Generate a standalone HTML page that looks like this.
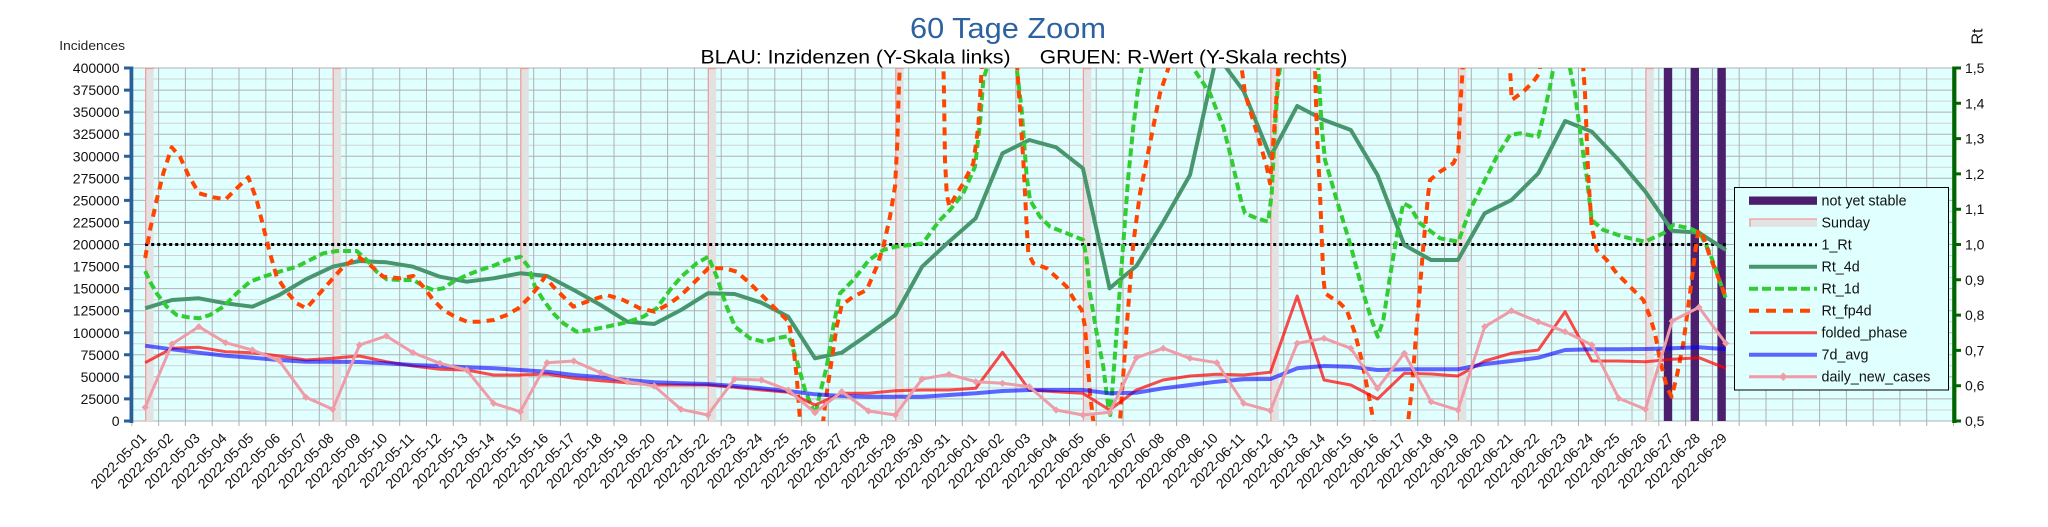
<!DOCTYPE html>
<html><head><meta charset="utf-8"><style>
html,body{margin:0;padding:0;background:#fff;}
svg{display:block;}
text{font-family:"Liberation Sans",Arial,sans-serif;}
</style></head><body>
<svg width="2048" height="527" viewBox="0 0 2048 527" xmlns="http://www.w3.org/2000/svg">
<defs>
<clipPath id="pc"><rect x="131.8" y="68" width="1821.7" height="353"/></clipPath>
<marker id="dm" viewBox="-4 -4 8 8" markerWidth="8" markerHeight="8" markerUnits="userSpaceOnUse" refX="0" refY="0"><path d="M0,-3.6 L3.6,0 L0,3.6 L-3.6,0Z" fill="#ee9ca7"/></marker>
</defs>
<rect width="2048" height="527" fill="#fff"/>
<!-- titles -->
<text x="910" y="38" font-size="29" fill="#2d62a0" textLength="196" lengthAdjust="spacingAndGlyphs">60 Tage Zoom</text>
<text x="700.5" y="63.5" font-size="19.5" fill="#000" textLength="310" lengthAdjust="spacingAndGlyphs">BLAU: Inzidenzen (Y-Skala links)</text>
<text x="1039.8" y="63.5" font-size="19.5" fill="#000" textLength="307.6" lengthAdjust="spacingAndGlyphs">GRUEN: R-Wert (Y-Skala rechts)</text>
<text x="59.3" y="50" font-size="13" fill="#222" textLength="65.7" lengthAdjust="spacingAndGlyphs">Incidences</text>
<text transform="translate(1982.5,36.5) rotate(-90)" text-anchor="middle" font-size="16" fill="#111">Rt</text>

<!-- plot background -->
<rect x="131.8" y="68" width="1821.7" height="353" fill="#e0ffff"/>
<!-- minor horizontal grid -->
<path stroke="#d2d2d2" stroke-width="1" fill="none" d="M131.8,410H1953.5M131.8,387.9H1953.5M131.8,365.8H1953.5M131.8,343.8H1953.5M131.8,321.7H1953.5M131.8,299.7H1953.5M131.8,277.6H1953.5M131.8,255.5H1953.5M131.8,233.5H1953.5M131.8,211.4H1953.5M131.8,189.3H1953.5M131.8,167.3H1953.5M131.8,145.2H1953.5M131.8,123.2H1953.5M131.8,101.1H1953.5M131.8,79H1953.5"/>
<!-- major horizontal grid -->
<path stroke="#b0b0b0" stroke-width="1" fill="none" d="M131.8,421H1953.5M131.8,398.9H1953.5M131.8,376.9H1953.5M131.8,354.8H1953.5M131.8,332.8H1953.5M131.8,310.7H1953.5M131.8,288.6H1953.5M131.8,266.6H1953.5M131.8,244.5H1953.5M131.8,222.4H1953.5M131.8,200.4H1953.5M131.8,178.3H1953.5M131.8,156.3H1953.5M131.8,134.2H1953.5M131.8,112.1H1953.5M131.8,90.1H1953.5M131.8,68H1953.5"/>
<!-- vertical grid -->
<path stroke="#b0b0b0" stroke-width="1" fill="none" d="M158.6,68V421M185.4,68V421M212.2,68V421M239,68V421M265.8,68V421M292.5,68V421M319.3,68V421M346.1,68V421M372.9,68V421M399.7,68V421M426.5,68V421M453.3,68V421M480.1,68V421M506.9,68V421M533.7,68V421M560.4,68V421M587.2,68V421M614,68V421M640.8,68V421M667.6,68V421M694.4,68V421M721.2,68V421M748,68V421M774.8,68V421M801.6,68V421M828.3,68V421M855.1,68V421M881.9,68V421M908.7,68V421M935.5,68V421M962.3,68V421M989.1,68V421M1015.9,68V421M1042.7,68V421M1069.5,68V421M1096.2,68V421M1123,68V421M1149.8,68V421M1176.6,68V421M1203.4,68V421M1230.2,68V421M1257,68V421M1283.8,68V421M1310.6,68V421M1337.4,68V421M1364.1,68V421M1390.9,68V421M1417.7,68V421M1444.5,68V421M1471.3,68V421M1498.1,68V421M1524.9,68V421M1551.7,68V421M1578.5,68V421M1605.3,68V421M1632,68V421M1658.8,68V421M1685.6,68V421M1712.4,68V421M1739.2,68V421M1766,68V421M1792.8,68V421M1819.6,68V421M1846.4,68V421M1873.2,68V421M1899.9,68V421M1926.7,68V421"/>
<!-- bottom ticks -->
<path stroke="#b0b0b0" stroke-width="1" fill="none" d="M131.8,421V426M158.6,421V426M185.4,421V426M212.2,421V426M239,421V426M265.8,421V426M292.5,421V426M319.3,421V426M346.1,421V426M372.9,421V426M399.7,421V426M426.5,421V426M453.3,421V426M480.1,421V426M506.9,421V426M533.7,421V426M560.4,421V426M587.2,421V426M614,421V426M640.8,421V426M667.6,421V426M694.4,421V426M721.2,421V426M748,421V426M774.8,421V426M801.6,421V426M828.3,421V426M855.1,421V426M881.9,421V426M908.7,421V426M935.5,421V426M962.3,421V426M989.1,421V426M1015.9,421V426M1042.7,421V426M1069.5,421V426M1096.2,421V426M1123,421V426M1149.8,421V426M1176.6,421V426M1203.4,421V426M1230.2,421V426M1257,421V426M1283.8,421V426M1310.6,421V426M1337.4,421V426M1364.1,421V426M1390.9,421V426M1417.7,421V426M1444.5,421V426M1471.3,421V426M1498.1,421V426M1524.9,421V426M1551.7,421V426M1578.5,421V426M1605.3,421V426M1632,421V426M1658.8,421V426M1685.6,421V426M1712.4,421V426M1739.2,421V426M1766,421V426M1792.8,421V426M1819.6,421V426M1846.4,421V426M1873.2,421V426M1899.9,421V426M1926.7,421V426M1953.5,421V426"/>

<!-- Sunday bars -->
<g fill="#e2e2e2">
<rect x="145.2" y="68" width="8.4" height="353"/><rect x="332.7" y="68" width="8.4" height="353"/><rect x="520.3" y="68" width="8.4" height="353"/><rect x="707.8" y="68" width="8.4" height="353"/><rect x="895.3" y="68" width="8.4" height="353"/><rect x="1082.9" y="68" width="8.4" height="353"/><rect x="1270.4" y="68" width="8.4" height="353"/><rect x="1457.9" y="68" width="8.4" height="353"/><rect x="1645.4" y="68" width="8.4" height="353"/>
</g>
<path stroke="#f09a9a" stroke-width="1.2" fill="none" d="M145.7,421V68.5H153.6M333.2,421V68.5H341.1M520.8,421V68.5H528.7M708.3,421V68.5H716.2M895.8,421V68.5H903.7M1083.4,421V68.5H1091.3M1270.9,421V68.5H1278.8M1458.4,421V68.5H1466.3M1645.9,421V68.5H1653.8"/>
<!-- not yet stable bars -->
<g fill="#4b1f6e">
<rect x="1663.8" y="68" width="8.4" height="353"/><rect x="1690.6" y="68" width="8.4" height="353"/><rect x="1717.4" y="68" width="8.4" height="353"/>
</g>

<g clip-path="url(#pc)" fill="none" stroke-linejoin="round">
<!-- 1_Rt -->
<path d="M145.2,244.5H1725.8" stroke="#000" stroke-width="3" stroke-dasharray="3 3"/>
<!-- Rt_4d -->
<polyline stroke="#48966e" stroke-width="4" points="145.2,308.3 172,300 198.8,298.3 225.6,303.3 252.4,306.7 279.2,295 305.9,279.3 332.7,266.7 359.5,261 386.3,262.3 413.1,266.7 439.9,276.7 466.7,281.7 493.5,278.3 520.3,273.3 547.1,276 573.8,290 600.6,305 627.4,321.7 654.2,324 681,310 707.8,293.3 734.6,294 761.4,302.7 788.2,316.7 815,358.3 841.7,352.7 868.5,334.3 895.3,315 922.1,266.7 948.9,241.7 975.7,218.3 1002.5,153.3 1029.3,140 1056.1,147.3 1082.9,168.3 1109.6,288.3 1136.4,266 1163.2,222 1190,175 1216.8,55 1243.6,91 1270.4,156.7 1297.2,106 1324,120 1350.8,130 1377.5,175 1404.3,245 1431.1,260 1457.9,260 1484.7,213.3 1511.5,200 1538.3,173.3 1565.1,121 1591.9,131.7 1618.7,160 1645.4,191.7 1672.2,230.7 1699,232.7 1725.8,250"/>
<!-- Rt_1d -->
<polyline stroke="#32cd32" stroke-width="4" stroke-dasharray="8 4" points="145.2,271 150,281.7 156.7,293.3 166.7,306.7 176.7,315 188.3,317.3 199,318.3 210,315 223.3,306.7 236.7,293.3 250,281.7 263.3,276.7 279.3,271.7 296.7,266.7 310,260 323.3,253.3 336.7,251 356.7,251 366.7,260 376.7,271.7 386.7,279.3 400,280 413.3,280 423.3,286 433.3,290 443.3,288.3 453.3,281.7 467,275 480,270 493.7,265.7 506.7,260 520.7,256.7 528.3,266.7 535,286.7 543.3,300 553.3,313.3 563.3,323.3 576.7,331.7 590,330 606.7,326.7 626.7,322.3 643.3,316.7 656.7,308.3 670,290 681.3,276.7 696.7,263.3 708.3,256.7 716.7,276.7 726.7,306.7 735,326.7 750,338.3 763.3,341.7 776.7,338.3 788.7,336 796.7,360 805,390 811.7,406.7 815.3,415 820,393.3 826.7,366.7 833.3,326.7 840,293.3 853.3,280 869,260 883.3,250 895.7,246.7 910,245 922.7,243.3 930,233.3 940,220 950,210 963.3,193.3 975,166.7 980,123.3 983.3,80 986.7,68.3 990,40 1001,10 1012,40 1016.7,68.3 1021.7,110 1026.7,176.7 1030,200 1040,216.7 1050,226.7 1066.7,233.3 1083.3,240 1086.7,260 1090,293.3 1096.7,333.3 1103.3,366.7 1108.3,406.7 1110.3,415 1113.3,376.7 1118.3,310 1123.3,243.3 1128.3,176.7 1133.3,126.7 1138.3,86.7 1141.7,68.3 1146,40 1167,0 1188,40 1193.3,68.3 1210,93.3 1223.3,126.7 1231.7,160 1241.7,203.3 1245,213.3 1256.7,218.3 1268.3,221.7 1271.7,193.3 1275,126.7 1278.3,80 1280,68.3 1282,40 1299,0 1316,40 1318.3,68.3 1321.7,126.7 1325,160 1330,176.7 1336.7,200 1350,243.3 1363.3,293.3 1371.7,320 1377.7,336.7 1383.3,320 1390,276.7 1396.7,236.7 1403.3,203.3 1410,206.7 1420,223.3 1440,238.3 1458.3,241.7 1470,210 1483.3,183.3 1496.7,156.7 1510,135 1520,133.3 1538.3,136.7 1543.3,116.7 1550,86.7 1553.3,68.3 1556,40 1562,20 1568,40 1570,68.3 1575,93.3 1581.7,143.3 1586.7,176.7 1591.7,220 1603.3,230 1623.3,236.7 1645,241.7 1663.3,233.3 1673.3,225 1690,228.3 1700,233.3 1710,253.3 1725.8,298.3"/>
<!-- Rt_fp4d -->
<polyline stroke="#ff4500" stroke-width="4" stroke-dasharray="8 6" points="145.2,258 150,230 156.7,200 163.3,173.3 171.7,147.3 180,156.7 188.3,175 199,193.3 213.3,197.3 225.7,199.3 236.7,188.3 248.3,177.3 256.7,200 263.3,226.7 270,253.3 276.7,276.7 286.7,291.7 296.7,303.3 306.3,308.3 316.7,296.7 330,281.7 343.3,266.7 358.3,256.7 370,265 383.3,276.7 400,278.3 413.3,276 423.3,286.7 433.3,300 443.3,310 455,316.7 467,321.7 480,321.7 493.7,320 506.7,315 518.3,308.3 530,296.7 538.3,286.7 545,276.7 553.3,286.7 563.3,296.7 573.3,306.7 586.7,301.7 606.7,295 623.3,300 640,308.3 654.7,311.7 670,303.3 681.3,295 693.3,283.3 708.3,268.3 725,268.3 736.7,271.7 750,283.3 763.3,296.7 776.7,310 788.7,321.7 793.3,346.7 796.7,376.7 800,420 803,445 812,455 821,445 823.3,420 826.7,393.3 831.7,360 836.7,326.7 841.7,305 853.3,296.7 866.7,290 876.7,266.7 883.3,246.7 890,216.7 895,186.7 897.3,143.3 898.7,93.3 900,60 902,20 921,0 941,20 943.3,60 944,93.3 945,160 946.7,193.3 949.3,206.7 955,196.7 963.3,183.3 973.3,163.3 978.3,126.7 981.7,68.3 983,30 1000,0 1016,30 1017.3,68.3 1020,110 1023.3,160 1026.7,226.7 1028.3,253.3 1033.3,263.3 1046.7,268.3 1066.7,286.7 1073.3,298.3 1081.7,310 1085,326.7 1090,393.3 1093.3,421 1095,440 1106,455 1118.3,440 1120,421 1126.7,326.7 1133.3,243.3 1140,193.3 1150,143.3 1160,93.3 1168.3,68.3 1171,40 1200,0 1238,40 1241.7,68.3 1245,93.3 1250,110 1260,143.3 1266.7,166.7 1270,183.3 1273.3,143.3 1276.7,93.3 1278.3,68.3 1280,40 1297,0 1313,40 1315,68.3 1316.7,126.7 1320,193.3 1323.3,276.7 1325,293.3 1335,300 1340,303.3 1346.7,310 1355,333.3 1361.7,360 1368.3,393.3 1373.3,420 1375,440 1391,455 1406.7,440 1408.3,420 1411.7,390 1416.7,326.7 1420,286.7 1423.3,246.7 1428.3,193.3 1430,180 1440,171.7 1453.3,163.3 1458.3,153.3 1460,110 1462.7,68.3 1464,40 1486,0 1508,40 1510,68.3 1511.7,100 1523.3,91.7 1533.3,81.7 1539.3,73.3 1542,50 1562,0 1582,50 1583.3,68.3 1585,93.3 1588.3,176.7 1591.7,226.7 1596.7,250 1606.7,260 1616.7,273.3 1626.7,283.3 1643.3,300 1650,316.7 1655,333.3 1660,360 1666.7,386.7 1671.7,396.7 1676.7,376.7 1683.3,343.3 1690,293.3 1695,253.3 1698.3,230 1703.3,236.7 1710,256.7 1716.7,273.3 1725.8,297"/>
<!-- folded_phase -->
<polyline stroke="#ff0000" stroke-opacity="0.7" stroke-width="3" points="145.2,362.7 172,348.3 198.8,347.3 225.6,351.7 252.4,352.7 279.2,356 305.9,360 332.7,358.3 359.5,356 386.3,361.7 413.1,366 439.9,369.3 466.7,370 493.5,375 520.3,375 547.1,374 573.8,378.3 600.6,380.7 627.4,382.7 654.2,385 681,385 707.8,385 734.6,387.3 761.4,390 788.2,392.3 815,405 841.7,393.3 868.5,393.3 895.3,390.7 922.1,390 948.9,390 975.7,388.3 1002.5,352.3 1029.3,390 1056.1,391.7 1082.9,393.3 1109.6,410 1136.4,390 1163.2,380 1190,376 1216.8,374.3 1243.6,375 1270.4,372.3 1297.2,296 1324,380 1350.8,385 1377.5,399 1404.3,373.3 1431.1,374 1457.9,376 1484.7,361 1511.5,353.3 1538.3,350 1565.1,311.7 1591.9,361 1618.7,361 1645.4,361.7 1672.2,359.3 1699,357.7 1725.8,368.3"/>
<!-- 7d_avg -->
<polyline stroke="#0000ff" stroke-opacity="0.6" stroke-width="4" points="145.2,345.7 172,349.3 198.8,352.7 225.6,355.7 252.4,357.7 279.2,360 305.9,361.7 332.7,361.7 359.5,362 386.3,363.3 413.1,365 439.9,366 466.7,367.3 493.5,368.3 520.3,370 547.1,371.7 573.8,375 600.6,377.3 627.4,380 654.2,382.3 681,383.3 707.8,384 734.6,386 761.4,388.3 788.2,391 815,394.3 841.7,396 868.5,396.7 895.3,396.7 922.1,396.7 948.9,395 975.7,393.3 1002.5,391 1029.3,390 1056.1,390 1082.9,390 1109.6,393.3 1136.4,392.7 1163.2,388.3 1190,385 1216.8,381.7 1243.6,379.3 1270.4,379 1297.2,368.3 1324,366 1350.8,366.7 1377.5,370 1404.3,369.3 1431.1,369.3 1457.9,369.3 1484.7,364 1511.5,361 1538.3,357.7 1565.1,350 1591.9,349.3 1618.7,349.3 1645.4,349 1672.2,348.3 1699,347.3 1725.8,349.3"/>
<!-- daily_new_cases -->
<polyline stroke="#ee9ca7" stroke-width="3" marker-start="url(#dm)" marker-mid="url(#dm)" marker-end="url(#dm)" points="145.2,407.3 172,344 198.8,326.7 225.6,342.7 252.4,350 279.2,360.7 305.9,397.3 332.7,409.3 359.5,345 386.3,336 413.1,352.7 439.9,363.3 466.7,370 493.5,403.3 520.3,411.7 547.1,362.7 573.8,361 600.6,372.7 627.4,381.7 654.2,386 681,409.3 707.8,415 734.6,379 761.4,380 788.2,390 815,412.7 841.7,391.7 868.5,411 895.3,415 922.1,379 948.9,374.3 975.7,381.7 1002.5,383.3 1029.3,386.7 1056.1,410 1082.9,415 1109.6,412.3 1136.4,357.7 1163.2,348.3 1190,358.3 1216.8,362.7 1243.6,403.3 1270.4,410.7 1297.2,343.3 1324,338.3 1350.8,348.3 1377.5,388.3 1404.3,353.3 1431.1,401.7 1457.9,410 1484.7,326.7 1511.5,310.7 1538.3,321.7 1565.1,331.7 1591.9,345 1618.7,398.3 1645.4,409.3 1672.2,321 1699,307.3 1725.8,343.3"/>
</g>

<!-- left axis -->
<rect x="129.5" y="66.5" width="3.8" height="356.5" fill="#2a6099"/>
<path stroke="#2a6099" stroke-width="3" fill="none" d="M124,421H131M124,398.9H131M124,376.9H131M124,354.8H131M124,332.8H131M124,310.7H131M124,288.6H131M124,266.6H131M124,244.5H131M124,222.4H131M124,200.4H131M124,178.3H131M124,156.3H131M124,134.2H131M124,112.1H131M124,90.1H131M124,68H131"/>
<g font-size="14" fill="#111" text-anchor="end">
<text x="119.5" y="426">0</text><text x="119.5" y="403.9">25000</text><text x="119.5" y="381.9">50000</text><text x="119.5" y="359.8">75000</text><text x="119.5" y="337.8">100000</text><text x="119.5" y="315.7">125000</text><text x="119.5" y="293.6">150000</text><text x="119.5" y="271.6">175000</text><text x="119.5" y="249.5">200000</text><text x="119.5" y="227.4">225000</text><text x="119.5" y="205.4">250000</text><text x="119.5" y="183.3">275000</text><text x="119.5" y="161.3">300000</text><text x="119.5" y="139.2">325000</text><text x="119.5" y="117.1">350000</text><text x="119.5" y="95.1">375000</text><text x="119.5" y="73">400000</text>
</g>
<!-- right axis -->
<rect x="1952.2" y="66.5" width="4.2" height="356.5" fill="#006400"/>
<path stroke="#006400" stroke-width="3" fill="none" d="M1955,421H1961M1955,385.7H1961M1955,350.4H1961M1955,315.1H1961M1955,279.8H1961M1955,244.5H1961M1955,209.2H1961M1955,173.9H1961M1955,138.6H1961M1955,103.3H1961M1955,68H1961"/>
<g font-size="14" fill="#111">
<text x="1965" y="426">0,5</text><text x="1965" y="390.7">0,6</text><text x="1965" y="355.4">0,7</text><text x="1965" y="320.1">0,8</text><text x="1965" y="284.8">0,9</text><text x="1965" y="249.5">1,0</text><text x="1965" y="214.2">1,1</text><text x="1965" y="178.9">1,2</text><text x="1965" y="143.6">1,3</text><text x="1965" y="108.3">1,4</text><text x="1965" y="73">1,5</text>
</g>

<!-- x labels -->
<g font-size="14" fill="#111" text-anchor="end">
<text transform="translate(147.2,439) rotate(-45)">2022-05-01</text>
<text transform="translate(174,439) rotate(-45)">2022-05-02</text>
<text transform="translate(200.8,439) rotate(-45)">2022-05-03</text>
<text transform="translate(227.6,439) rotate(-45)">2022-05-04</text>
<text transform="translate(254.4,439) rotate(-45)">2022-05-05</text>
<text transform="translate(281.2,439) rotate(-45)">2022-05-06</text>
<text transform="translate(307.9,439) rotate(-45)">2022-05-07</text>
<text transform="translate(334.7,439) rotate(-45)">2022-05-08</text>
<text transform="translate(361.5,439) rotate(-45)">2022-05-09</text>
<text transform="translate(388.3,439) rotate(-45)">2022-05-10</text>
<text transform="translate(415.1,439) rotate(-45)">2022-05-11</text>
<text transform="translate(441.9,439) rotate(-45)">2022-05-12</text>
<text transform="translate(468.7,439) rotate(-45)">2022-05-13</text>
<text transform="translate(495.5,439) rotate(-45)">2022-05-14</text>
<text transform="translate(522.3,439) rotate(-45)">2022-05-15</text>
<text transform="translate(549.1,439) rotate(-45)">2022-05-16</text>
<text transform="translate(575.8,439) rotate(-45)">2022-05-17</text>
<text transform="translate(602.6,439) rotate(-45)">2022-05-18</text>
<text transform="translate(629.4,439) rotate(-45)">2022-05-19</text>
<text transform="translate(656.2,439) rotate(-45)">2022-05-20</text>
<text transform="translate(683,439) rotate(-45)">2022-05-21</text>
<text transform="translate(709.8,439) rotate(-45)">2022-05-22</text>
<text transform="translate(736.6,439) rotate(-45)">2022-05-23</text>
<text transform="translate(763.4,439) rotate(-45)">2022-05-24</text>
<text transform="translate(790.2,439) rotate(-45)">2022-05-25</text>
<text transform="translate(817,439) rotate(-45)">2022-05-26</text>
<text transform="translate(843.7,439) rotate(-45)">2022-05-27</text>
<text transform="translate(870.5,439) rotate(-45)">2022-05-28</text>
<text transform="translate(897.3,439) rotate(-45)">2022-05-29</text>
<text transform="translate(924.1,439) rotate(-45)">2022-05-30</text>
<text transform="translate(950.9,439) rotate(-45)">2022-05-31</text>
<text transform="translate(977.7,439) rotate(-45)">2022-06-01</text>
<text transform="translate(1004.5,439) rotate(-45)">2022-06-02</text>
<text transform="translate(1031.3,439) rotate(-45)">2022-06-03</text>
<text transform="translate(1058.1,439) rotate(-45)">2022-06-04</text>
<text transform="translate(1084.9,439) rotate(-45)">2022-06-05</text>
<text transform="translate(1111.6,439) rotate(-45)">2022-06-06</text>
<text transform="translate(1138.4,439) rotate(-45)">2022-06-07</text>
<text transform="translate(1165.2,439) rotate(-45)">2022-06-08</text>
<text transform="translate(1192,439) rotate(-45)">2022-06-09</text>
<text transform="translate(1218.8,439) rotate(-45)">2022-06-10</text>
<text transform="translate(1245.6,439) rotate(-45)">2022-06-11</text>
<text transform="translate(1272.4,439) rotate(-45)">2022-06-12</text>
<text transform="translate(1299.2,439) rotate(-45)">2022-06-13</text>
<text transform="translate(1326,439) rotate(-45)">2022-06-14</text>
<text transform="translate(1352.8,439) rotate(-45)">2022-06-15</text>
<text transform="translate(1379.5,439) rotate(-45)">2022-06-16</text>
<text transform="translate(1406.3,439) rotate(-45)">2022-06-17</text>
<text transform="translate(1433.1,439) rotate(-45)">2022-06-18</text>
<text transform="translate(1459.9,439) rotate(-45)">2022-06-19</text>
<text transform="translate(1486.7,439) rotate(-45)">2022-06-20</text>
<text transform="translate(1513.5,439) rotate(-45)">2022-06-21</text>
<text transform="translate(1540.3,439) rotate(-45)">2022-06-22</text>
<text transform="translate(1567.1,439) rotate(-45)">2022-06-23</text>
<text transform="translate(1593.9,439) rotate(-45)">2022-06-24</text>
<text transform="translate(1620.7,439) rotate(-45)">2022-06-25</text>
<text transform="translate(1647.4,439) rotate(-45)">2022-06-26</text>
<text transform="translate(1674.2,439) rotate(-45)">2022-06-27</text>
<text transform="translate(1701,439) rotate(-45)">2022-06-28</text>
<text transform="translate(1727.8,439) rotate(-45)">2022-06-29</text>
</g>

<!-- legend -->
<rect x="1734.5" y="187.5" width="214" height="202.5" fill="#e0ffff" stroke="#000" stroke-width="1"/>
<rect x="1749" y="196.5" width="68" height="8.3" fill="#4b1f6e"/>
<rect x="1749" y="218.5" width="68" height="8.3" fill="#e2e2e2"/>
<path d="M1750,226.8V219H1817" stroke="#f09a9a" stroke-width="1.2" fill="none"/>
<path d="M1749,244.7H1817" stroke="#000" stroke-width="3" stroke-dasharray="3 3"/>
<path d="M1749,266.7H1817" stroke="#48966e" stroke-width="4"/>
<path d="M1749,288.7H1817" stroke="#32cd32" stroke-width="4" stroke-dasharray="9 4"/>
<path d="M1749,310.7H1817" stroke="#ff4500" stroke-width="4" stroke-dasharray="10 7"/>
<path d="M1750,332.7H1817" stroke="#ff0000" stroke-opacity="0.7" stroke-width="3"/>
<path d="M1749,354.7H1817" stroke="#0000ff" stroke-opacity="0.6" stroke-width="4"/>
<path d="M1749,376.7H1817" stroke="#ee9ca7" stroke-width="3"/>
<path d="M1783.3,372.5 L1787.5,376.7 L1783.3,380.9 L1779.1,376.7Z" fill="#ee9ca7"/>
<g font-size="14.3" fill="#111">
<text x="1821.5" y="205.7">not yet stable</text>
<text x="1821.5" y="227.7">Sunday</text>
<text x="1821.5" y="249.7">1_Rt</text>
<text x="1821.5" y="271.7">Rt_4d</text>
<text x="1821.5" y="293.7">Rt_1d</text>
<text x="1821.5" y="315.7">Rt_fp4d</text>
<text x="1821.5" y="337.7">folded_phase</text>
<text x="1821.5" y="359.7">7d_avg</text>
<text x="1821.5" y="381.7">daily_new_cases</text>
</g>
</svg>
</body></html>
